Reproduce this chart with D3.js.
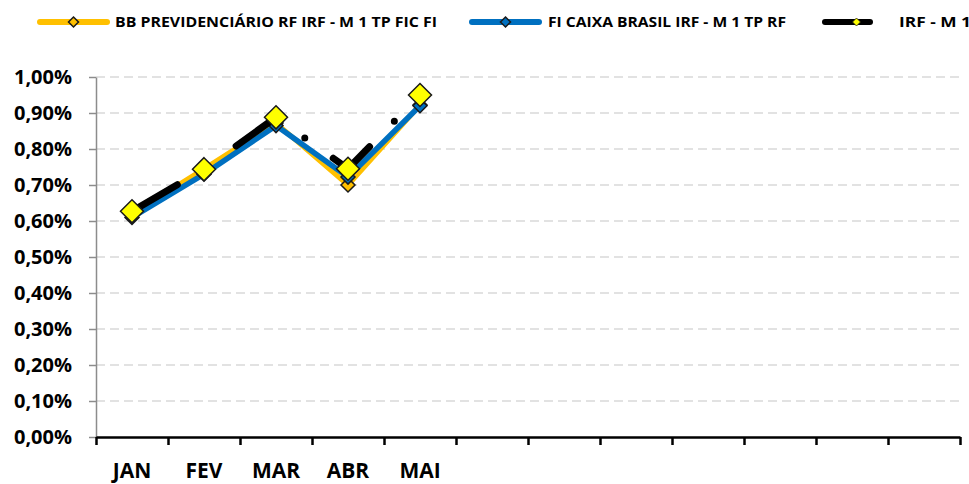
<!DOCTYPE html>
<html>
<head>
<meta charset="utf-8">
<script src="https://cdn.jsdelivr.net/npm/d3@7"></script>
<style>
  body { margin: 0; background: #fff; }
  text { font-family: "Open Sans", "DejaVu Sans", sans-serif; font-weight: bold; fill: #000; }
</style>
</head>
<body>
<svg id="chart" width="969" height="484"></svg>
<script>
// data (% per month)
const months = ['JAN', 'FEV', 'MAR', 'ABR', 'MAI', 'JUN', 'JUL', 'AGO', 'SET', 'OUT', 'NOV', 'DEZ'];
const bbValues = [0.620, 0.745, 0.872, 0.700, 0.922];
const caixaValues = [0.610, 0.730, 0.865, 0.722, 0.920];
const irfValues = [0.627, 0.744, 0.888, 0.745, 0.950];
const yTicks = [0, 0.1, 0.2, 0.3, 0.4, 0.5, 0.6, 0.7, 0.8, 0.9, 1.0];
const seriesNames = ['BB PREVIDENCIÁRIO RF IRF - M 1 TP FIC FI', 'FI CAIXA BRASIL IRF - M 1 TP RF', 'IRF - M 1'];

const series = [
  { name: seriesNames[0], values: bbValues, color: '#FFC000', width: 5, marker: 14, fill: '#FFC000', dash: null },
  { name: seriesNames[1], values: caixaValues, color: '#0070C0', width: 5.5, marker: 14, fill: '#0070C0', dash: null },
  { name: seriesNames[2], values: irfValues, color: '#000000', width: 7, marker: 23, fill: '#FFFF00', dash: '49,35.5,0,35' }
];

const svg = d3.select('#chart');
const plotLeft = 96, plotRight = 960, plotTop = 77, plotBottom = 437;

const x = d3.scaleBand().domain(months).range([plotLeft, plotRight]).padding(0);
const xEdges = d3.scaleLinear().domain([0, months.length]).range([plotLeft, plotRight]);
const y = d3.scaleLinear().domain([0, 1]).range([plotBottom, plotTop]);

// dashed gridlines
svg.append('g')
  .selectAll('line')
  .data(yTicks.filter(d => d > 0))
  .join('line')
  .attr('x1', plotLeft).attr('x2', plotRight)
  .attr('y1', d => y(d)).attr('y2', d => y(d))
  .attr('stroke', '#d9d9d9')
  .attr('stroke-width', 1.5)
  .attr('stroke-dasharray', '9,5');

// y axis
let yAxis = svg.append('g')
  .attr('transform', `translate(${plotLeft},0)`)
  .call(d3.axisLeft(y).tickValues(yTicks).tickSize(7).tickSizeOuter(0).tickPadding(17)
    .tickFormat(d => d.toFixed(2).replace('.', ',') + '%'));
yAxis.select('.domain').attr('stroke', '#8c8c8c').attr('stroke-width', 1.5);
yAxis.selectAll('.tick line').attr('stroke', '#8c8c8c').attr('stroke-width', 1.5);
yAxis.selectAll('.tick text')
  .style('font-family', '"Open Sans", sans-serif')
  .style('font-weight', 'bold')
  .style('font-size', '20px')
  .attr('fill', '#000');

// x axis: ticks on category edges
let xAxis = svg.append('g')
  .attr('transform', `translate(0,${plotBottom})`)
  .call(d3.axisBottom(xEdges).tickValues(d3.range(months.length + 1)).tickSize(8).tickSizeOuter(0).tickFormat(''));
xAxis.select('.domain').attr('stroke', '#000').attr('stroke-width', 2.5);
xAxis.selectAll('.tick line').attr('stroke', '#000').attr('stroke-width', 2.5);

svg.append('g')
  .selectAll('text')
  .data(months.slice(0, irfValues.length))
  .join('text')
  .attr('x', d => x(d) + x.bandwidth() / 2)
  .attr('y', 478)
  .attr('text-anchor', 'middle')
  .style('font-size', '21px')
  .text(d => d);

const line = d3.line()
  .x((d, i) => x(months[i]) + x.bandwidth() / 2)
  .y(d => y(d));

const diamond = s => `M0,${-s / 2}L${s / 2},0L0,${s / 2}L${-s / 2},0Z`;

series.forEach(s => {
  let g = svg.append('g');
  g.append('path')
    .datum(s.values)
    .attr('d', line)
    .attr('fill', 'none')
    .attr('stroke', s.color)
    .attr('stroke-width', s.width)
    .attr('stroke-linejoin', 'round')
    .attr('stroke-linecap', 'round')
    .attr('stroke-dasharray', s.dash)
    .attr('stroke-dashoffset', s.dash ? -3.5 : null);
  g.selectAll('path.marker')
    .data(s.values)
    .join('path')
    .attr('class', 'marker')
    .attr('transform', (d, i) => `translate(${x(months[i]) + x.bandwidth() / 2},${y(d)})`)
    .attr('d', diamond(s.marker))
    .attr('fill', s.fill)
    .attr('stroke', '#1a1a1a')
    .attr('stroke-width', 1.5);
});

// legend
const legendItems = [
  { x1: 37, x2: 110, tx: 115, tw: 322, m: 10 },
  { x1: 469, x2: 542, tx: 548, tw: 238, m: 10 },
  { x1: 822, x2: 873, tx: 899, tw: 72, m: 8 }
];
const legend = svg.append('g');
series.forEach((s, i) => {
  let li = legendItems[i];
  legend.append('line')
    .attr('x1', li.x1 + 3).attr('x2', li.x2 - 3)
    .attr('y1', 22).attr('y2', 22)
    .attr('stroke', s.color)
    .attr('stroke-width', 6)
    .attr('stroke-linecap', 'round');
  legend.append('path')
    .attr('transform', `translate(${(li.x1 + li.x2) / 2 + (i == 2 ? 9 : 0)},22)`)
    .attr('d', diamond(li.m))
    .attr('fill', s.fill)
    .attr('stroke', '#1a1a1a')
    .attr('stroke-width', i == 2 ? 0.8 : 1.5);
  legend.append('text')
    .attr('x', li.tx)
    .attr('y', 27)
    .style('font-size', '13.5px')
    .attr('textLength', li.tw)
    .attr('lengthAdjust', 'spacingAndGlyphs')
    .text(s.name);
});
</script>
</body>
</html>
